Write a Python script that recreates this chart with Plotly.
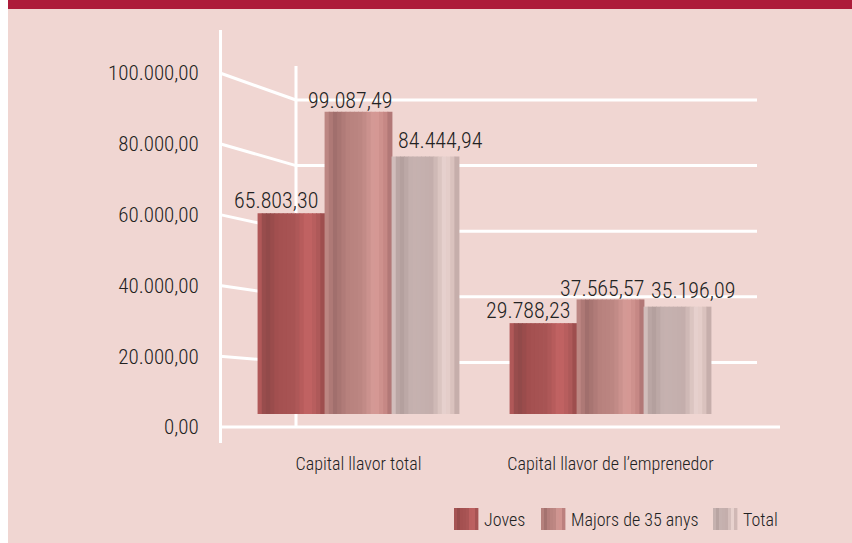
import plotly.graph_objects as go

# data
categories = ["Capital llavor total", "Capital llavor de l’emprenedor"]
series_names = ["Joves", "Majors de 35 anys", "Total"]
joves = [65803.30, 29788.23]
majors = [99087.49, 37565.57]
total = [84444.94, 35196.09]
value_labels = [
    ["65.803,30", "29.788,23"],
    ["99.087,49", "37.565,57"],
    ["84.444,94", "35.196,09"],
]
tick_vals = [0, 20000, 40000, 60000, 80000, 100000]
tick_text = ["0,00", "20.000,00", "40.000,00", "60.000,00", "80.000,00", "100.000,00"]

W, H = 852, 543
FONT = "Roboto Condensed, Liberation Sans Narrow, DejaVu Sans Condensed, sans-serif"
TEXT = "#222222"
PINK = "#f0d6d2"
GRID = "white"

# cylinder-ish shading for each series (position across bar, colour)
shading = [
    [(0, "#bc5e5e"), (0.12, "#8e4848"), (0.3, "#a45050"), (0.55, "#a85454"),
     (0.75, "#c46464"), (0.9, "#b05a5a"), (1, "#964848")],
    [(0, "#c48c88"), (0.15, "#a06e6c"), (0.35, "#b8827e"), (0.55, "#bc8682"),
     (0.75, "#d89c98"), (0.9, "#c88a86"), (1, "#a87070")],
    [(0, "#dcc8c6"), (0.12, "#b09c9a"), (0.3, "#c6b2b0"), (0.6, "#c4aeac"),
     (0.8, "#ead4d0"), (0.9, "#dcc4c0"), (1, "#bca4a2")],
]


def fx(px):
    return px / W


def fy(py):
    return 1 - py / H


def hex_rgb(h):
    h = h.lstrip("#")
    return [int(h[i:i + 2], 16) for i in (0, 2, 4)]


def shade_at(stops, t):
    for (p0, c0), (p1, c1) in zip(stops, stops[1:]):
        if p0 <= t <= p1:
            a = (t - p0) / (p1 - p0)
            r0, r1 = hex_rgb(c0), hex_rgb(c1)
            return "rgb(%d,%d,%d)" % tuple(round(x + (y - x) * a) for x, y in zip(r0, r1))
    return stops[-1][1]


# pixel layout
CAT_PX = [358.5, 610.5]
UNIT = CAT_PX[1] - CAT_PX[0]          # px per category
BAR_W = 67 / UNIT                      # one bar, in category units
BASE_PX, PX_PER_K = 414, 3.05          # bar axis
FRONT_ZERO, FRONT_PX_PER_K = 427, 3.54 # labelled front axis
BACK_ZERO, BACK_PX_PER_K = 428, 3.28   # back wall
FRONT_X, BACK_X = 220, 296

fig = go.Figure()

N = 16
values = [joves, majors, total]
for j, (name, vals) in enumerate(zip(series_names, values)):
    for k in range(N):
        t = (k + 0.5) / N
        fig.add_trace(go.Bar(
            x=[0, 1], y=vals, name=name,
            width=BAR_W / N * 1.2,
            offset=(j - 1.5) * BAR_W + k * BAR_W / N - BAR_W / N * 0.1,
            marker=dict(color=shade_at(shading[j], t), line=dict(width=0)),
            showlegend=False, legendgroup=name,
            hovertemplate=name + ": %{y:,.2f}<extra></extra>",
        ))

# invisible trace to hold the front (labelled) axis
fig.add_trace(go.Scatter(x=[None], y=[None], yaxis="y2", showlegend=False,
                         hoverinfo="skip"))

# value labels (centre offset from bar top, px)
label_dx = [-16, -8.5, 15]
label_dy = [13, 11, 16]
for j, vals in enumerate(values):
    for i, v in enumerate(vals):
        fig.add_annotation(
            x=i + (j - 1) * BAR_W + label_dx[j] / UNIT, y=v,
            xref="x", yref="y", text=value_labels[j][i], showarrow=False,
            yanchor="middle", yshift=label_dy[j],
            font=dict(family=FONT, size=22, color=TEXT, weight=300),
        )

shapes = []
# white strip on the left, red band on top
shapes.append(dict(type="rect", xref="paper", yref="paper", x0=0, x1=fx(8),
                   y0=0, y1=1, fillcolor="white", line_width=0, layer="below"))
shapes.append(dict(type="rect", xref="paper", yref="paper", x0=fx(8), x1=1,
                   y0=fy(9), y1=1, fillcolor="#ad1c3a", line_width=0, layer="below"))


def wline(x0, y0, x1, y1):
    shapes.append(dict(type="line", xref="paper", yref="paper",
                       x0=fx(x0), y0=fy(y0), x1=fx(x1), y1=fy(y1),
                       line=dict(color=GRID, width=3), layer="below"))


# back wall gridlines and the slanted side-wall lines
for v in tick_vals[1:]:
    yb = BACK_ZERO - v / 1000 * BACK_PX_PER_K
    yf = FRONT_ZERO - v / 1000 * FRONT_PX_PER_K
    wline(FRONT_X, yf, BACK_X, yb)
    wline(BACK_X, yb, 757, yb)
wline(BACK_X, 66, BACK_X, BACK_ZERO)
wline(FRONT_X, FRONT_ZERO, 780, FRONT_ZERO)

# legend drawn by hand so swatches match the striped bars
legend_x = [454, 541, 713]
for j, name in enumerate(series_names):
    x0 = legend_x[j]
    n = 8
    for k in range(n):
        shapes.append(dict(type="rect", xref="paper", yref="paper",
                           x0=fx(x0 + k * 24 / n), x1=fx(x0 + (k + 1) * 24 / n + 0.4),
                           y0=fy(530), y1=fy(508),
                           fillcolor=shade_at(shading[j], (k + 0.5) / n),
                           line_width=0))
    fig.add_annotation(xref="paper", yref="paper", x=fx(x0 + 28), y=fy(519),
                       xanchor="left", yanchor="middle", text=name,
                       showarrow=False,
                       font=dict(family=FONT, size=18, color=TEXT, weight=300))

fig.update_layout(
    width=W, height=H,
    margin=dict(l=0, r=0, t=0, b=0),
    paper_bgcolor=PINK, plot_bgcolor="rgba(0,0,0,0)",
    barmode="group", showlegend=False,
    font=dict(family=FONT, color=TEXT, weight=300),
    shapes=shapes,
    xaxis=dict(
        domain=[fx(FRONT_X), fx(780)],
        range=[-(CAT_PX[0] - FRONT_X) / UNIT, 1 + (780 - CAT_PX[1]) / UNIT],
        tickvals=[0, 1], ticktext=categories,
        tickfont=dict(family=FONT, size=18, color=TEXT, weight=300),
        ticks="", showgrid=False, zeroline=False, showline=False,
        ticklabelstandoff=37, automargin=False, fixedrange=True,
    ),
    yaxis=dict(
        domain=[fy(BASE_PX), fy(BASE_PX - 100 * PX_PER_K)],
        range=[0, 100000], visible=False, fixedrange=True,
    ),
    yaxis2=dict(
        domain=[fy(443), fy(30)],
        range=[-(443 - FRONT_ZERO) / FRONT_PX_PER_K * 1000,
               (FRONT_ZERO - 30) / FRONT_PX_PER_K * 1000],
        anchor="free", position=fx(FRONT_X), side="left",
        tickvals=tick_vals, ticktext=tick_text,
        tickfont=dict(family=FONT, size=21, color=TEXT, weight=300),
        ticks="", showgrid=False, zeroline=False,
        showline=True, linecolor=GRID, linewidth=3,
        ticklabelstandoff=16, automargin=False, fixedrange=True,
    ),
)

# page margin off so the 852x543 figure fills the window
fig.write_html("out.html", config={"displayModeBar": False},
               post_script="document.body.style.margin='0';")
